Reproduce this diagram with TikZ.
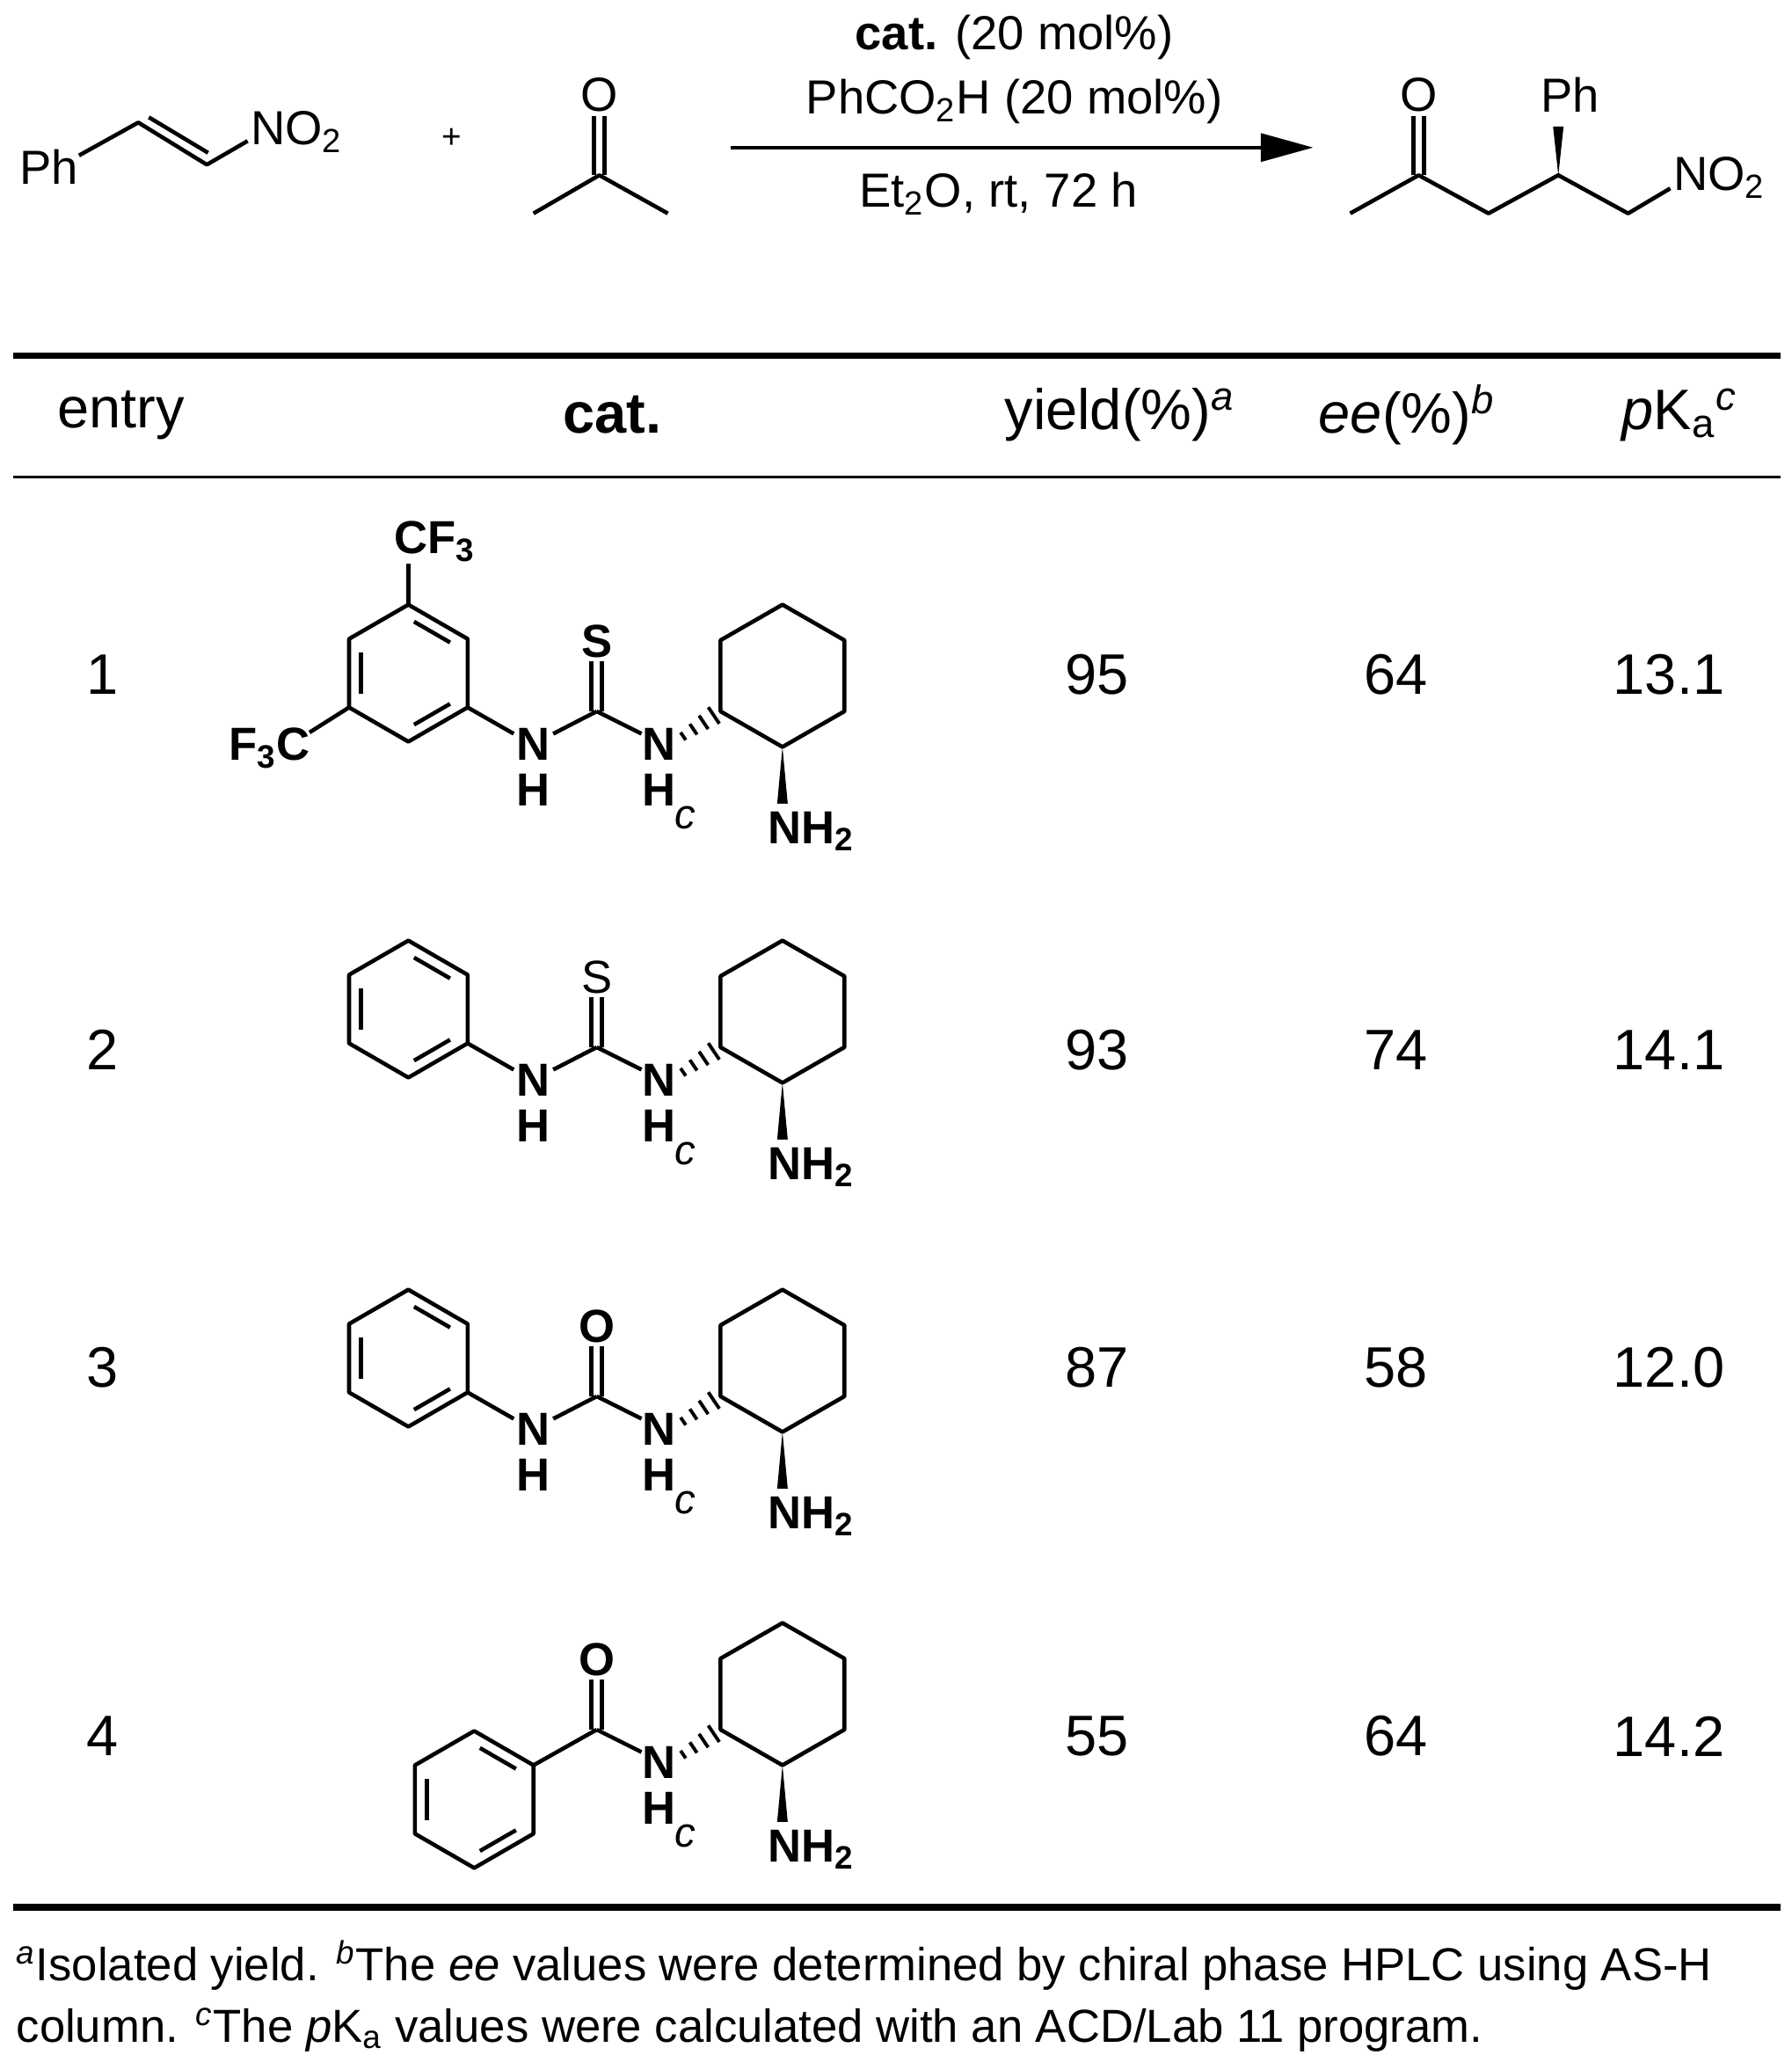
\documentclass[tikz,border=0pt]{standalone}
\usepackage{fontspec}
\setmainfont{Liberation Sans}
\usetikzlibrary{calc,arrows.meta}
\newcommand\bigf{\fontsize{18.5}{21}\selectfont}
\newcommand\midf{\fontsize{15.5}{18}\selectfont}
\newcommand\chf{\fontsize{15}{17}\selectfont\bfseries}
\newcommand\fnf{\fontsize{15}{17}\selectfont}
\newcommand\benzring[1]{%
  \coordinate (c) at #1;
  \coordinate (t) at ($(c)+(0,-52)$); \coordinate (ur) at ($(c)+(45,-26)$);
  \coordinate (lr) at ($(c)+(45,26)$); \coordinate (b) at ($(c)+(0,52)$);
  \coordinate (ll) at ($(c)+(-45,26)$); \coordinate (ul) at ($(c)+(-45,-26)$);
  \draw[bond] (t)--(ur)--(lr)--(b)--(ll)--(ul)--cycle;
  \foreach \p/\q in {t/ur,lr/b,ll/ul}{
    \coordinate (pa) at ($(c)!0.8!(\p)$); \coordinate (pb) at ($(c)!0.8!(\q)$);
    \draw[bond] ($(pa)!0.12!(pb)$)--($(pb)!0.12!(pa)$);}
}
\newcommand\amine{%
  \draw[bond] (547,540)--(547,486)--(594,459)--(641,486)--(641,540)--(594,567)--cycle;
  \node[lab] (nr) at (500,565) {N};
  \node[lab] (hr) at (500,600) {H};
  \node[font=\fontsize{13.5}{15}\selectfont\itshape,inner sep=0] (hc) at (520,621) {c};
  \foreach \t in {0.15,0.4,0.65,0.9}{
    \draw[line width=1.1pt] ($(514,562)!\t!(545,541)+(-1.5-3*\t,-2.2-4.5*\t)$)--($(514,562)!\t!(545,541)+(1.5+3*\t,2.2+4.5*\t)$);}
  \fill (594,567)--(590,610)--(598,610)--cycle;
  \node[lab] (nh2) at (616,631) {NH\textsubscript{2}};
  \draw[bond] (453,540)--(487,557);
}
\begin{document}
\begin{tikzpicture}[x=0.015cm,y=-0.015cm,
  bond/.style={line width=1.3pt,line join=round},
  lab/.style={font=\chf,inner sep=0},
  rlab/.style={font=\midf,inner sep=0},
  big/.style={font=\bigf,inner sep=0}]
\useasboundingbox (0,0) rectangle (1360,1560);
% ---------- reaction ----------
\node[rlab] (ph1) at (37,127) {Ph};
\node[rlab,anchor=west] (no2a) at (190,100) {NO\textsubscript{2}};
\draw[bond] (60,118)--(105,93)--(157,125)--(188,107);
\draw[bond] (113,89)--(158,116);
\node[rlab] (plus) at (343,105) {\fontsize{11}{12}\selectfont +};
\node[rlab] (oa) at (455,72) {O};
\draw[bond] (451,88)--(451,133) (459,88)--(459,133);
\draw[bond] (405,162)--(455,133)--(507,162);
\node[rlab] (c1) at (770,28) {\textbf{cat.} (20 mol\%)};
\node[rlab] (c2) at (770,77) {PhCO\textsubscript{2}H (20 mol\%)};
\node[rlab] (c3) at (758,147) {Et\textsubscript{2}O, rt, 72 h};
\coordinate (as) at (555,112); \coordinate (ae) at (997,112);
\draw[bond,-{Triangle[length=17pt,width=9pt]}] (as)--(ae);
\node[rlab] (ob) at (1077,72) {O};
\draw[bond] (1073,88)--(1073,133) (1081,88)--(1081,133);
\draw[bond] (1025,162)--(1077,133)--(1130,162)--(1183,133)--(1236,162)--(1268,143);
\fill (1183,133)--(1179,96)--(1187,96)--cycle;
\node[rlab] (phb) at (1192,72) {Ph};
\node[rlab,anchor=west] (no2b) at (1270,135) {NO\textsubscript{2}};
% ---------- table rules ----------
\draw[line width=2.2pt] (10,270)--(1352,270);
\draw[line width=0.8pt] (10,362)--(1352,362);
\draw[line width=2.2pt] (10,1448)--(1352,1448);
\node[big] (h1) at (92,315) {entry};
\node[big] (h2) at (465,315) {\textbf{cat.}};
\node[big] (h3) at (850,315) {yield(\%)\textsuperscript{\itshape a}};
\node[big] (h4) at (1068,315) {\textit{ee}(\%)\textsuperscript{\itshape b}};
\node[big] (h5) at (1275,315) {\textit{p}K\textsubscript{a}\textsuperscript{\itshape c}};
\foreach \y/\e/\yi/\ee/\pk in {512/1/95/64/13.1,797/2/93/74/14.1,1038/3/87/58/12.0,1318/4/55/64/14.2}{
  \node[big] (e\e) at (78,\y) {\e};
  \node[big] (y\e) at (833,\y) {\yi};
  \node[big] (ee\e) at (1060,\y) {\ee};
  \node[big] (pk\e) at (1267,\y) {\pk};}
% ---------- catalyst 1 ----------
\begin{scope}
\benzring{(310,511)}
\draw[bond] (310,459)--(310,428);
\node[lab] (cf3) at (330,411) {CF\textsubscript{3}};
\draw[bond] (265,537)--(235,556);
\node[lab,anchor=east] (f3c) at (236,568) {F\textsubscript{3}C};
\draw[bond] (355,537)--(390,557);
\node[lab] (nl1) at (405,565) {N}; \node[lab] (hl1) at (405,600) {H};
\draw[bond] (453,540)--(420,557);
\node[lab] (s1) at (453,487) {S};
\draw[bond] (449,502)--(449,540) (457,502)--(457,540);
\amine
\end{scope}
% ---------- catalyst 2 ----------
\begin{scope}[shift={(0,255)}]
\benzring{(310,511)}
\draw[bond] (355,537)--(390,557);
\node[lab] (nl2) at (405,565) {N}; \node[lab] (hl2) at (405,600) {H};
\draw[bond] (453,540)--(420,557);
\node[lab,font=\fontsize{15}{17}\selectfont] (s2) at (453,487) {S};
\draw[bond] (449,502)--(449,540) (457,502)--(457,540);
\amine
\end{scope}
% ---------- catalyst 3 ----------
\begin{scope}[shift={(0,520)}]
\benzring{(310,511)}
\draw[bond] (355,537)--(390,557);
\node[lab] (nl3) at (405,565) {N}; \node[lab] (hl3) at (405,600) {H};
\draw[bond] (453,540)--(420,557);
\node[lab] (o3) at (453,487) {O};
\draw[bond] (449,502)--(449,540) (457,502)--(457,540);
\amine
\end{scope}
% ---------- catalyst 4 ----------
\begin{scope}[shift={(0,773)}]
\benzring{(360,593)}
\draw[bond] (405,567)--(453,540);
\node[lab] (o4) at (453,487) {O};
\draw[bond] (449,502)--(449,540) (457,502)--(457,540);
\amine
\end{scope}
% ---------- footnotes ----------
\node[font=\fnf,anchor=west,inner sep=0] (fn1) at (12,1492) {\textsuperscript{\itshape a}Isolated yield. \textsuperscript{\itshape b}The \textit{ee} values were determined by chiral phase HPLC using AS-H};
\node[font=\fnf,anchor=west,inner sep=0] (fn2) at (12,1541) {column. \textsuperscript{\itshape c}The \textit{p}K\textsubscript{a} values were calculated with an ACD/Lab 11 program.};
\end{tikzpicture}
\end{document}
